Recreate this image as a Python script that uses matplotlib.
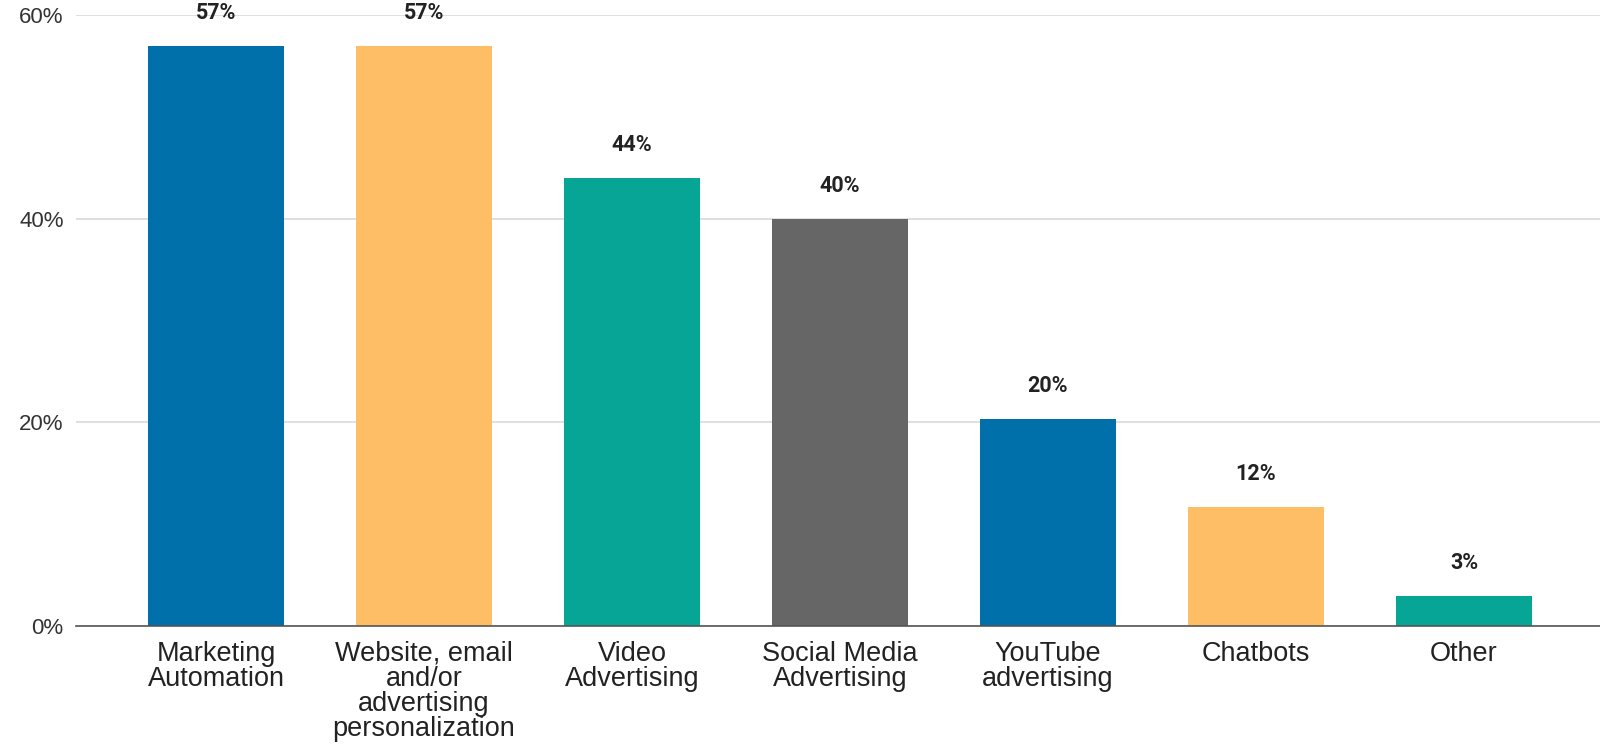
import numpy as np
import matplotlib.pyplot as plt

categories = ['Marketing\nAutomation', 'Website, email\nand/or\nadvertising\npersonalization',
              'Video\nAdvertising', 'Social Media\nAdvertising', 'YouTube\nadvertising',
              'Chatbots', 'Other']
values = [57, 57, 44, 40, 20.3, 11.7, 2.9]
value_labels = ['57%', '57%', '44%', '40%', '20%', '12%', '3%']
colors = ['#0070AA', '#FDBE66', '#07A596', '#666666', '#0070AA', '#FDBE66', '#07A596']
yticks = [0, 20, 40, 60]

fig = plt.figure(figsize=(16, 7.49), dpi=100)
ax = fig.add_axes([0.0475, 0.1642, 0.9525, 0.98 - 0.1642])

x = np.arange(len(categories))
ax.bar(x, values, width=0.654, color=colors, zorder=3)

for xi, v, lab in zip(x, values, value_labels):
    ax.annotate(lab, (xi, v), xytext=(0, 33), textcoords='offset pixels',
                ha='center', va='center', fontsize=15.5, fontweight='bold',
                family='Roboto', color='#222222', clip_on=False)

ax.set_xlim(-0.673, 6.654)
ax.set_ylim(0, 60)
ax.set_yticks(yticks)
ax.set_yticklabels([f'{t}%' for t in yticks], fontsize=16, family='Liberation Sans', color='#333333')
ax.set_xticks(x)
ax.set_xticklabels(categories, fontsize=19.5, family='Liberation Sans', color='#222222', linespacing=0.95)
ax.tick_params(axis='both', length=0)
ax.tick_params(axis='x', pad=10.5)
ax.tick_params(axis='y', pad=9)

ax.grid(axis='y', color='#d9d9d9', linewidth=1.2, zorder=0)
for s in ['top', 'right', 'left']:
    ax.spines[s].set_visible(False)
ax.spines['bottom'].set_color('#555555')
ax.spines['bottom'].set_linewidth(1.2)
ax.spines['bottom'].set_zorder(4)

fig.savefig('out.png', dpi=100)
